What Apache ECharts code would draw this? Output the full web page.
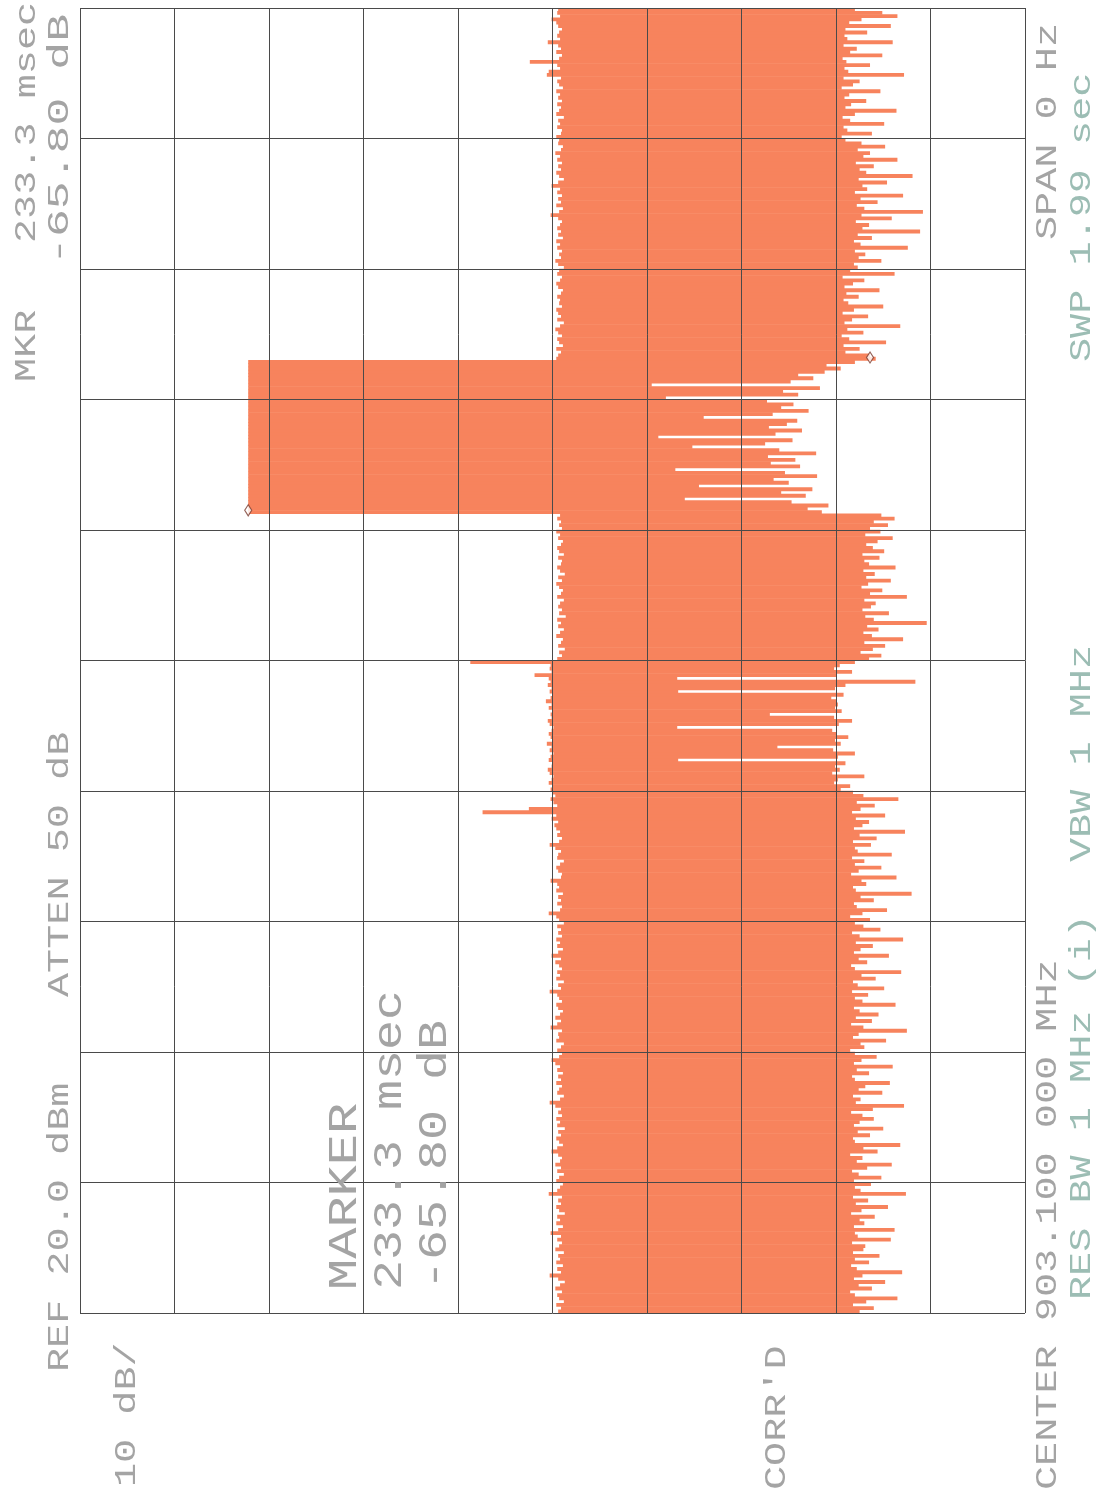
<!DOCTYPE html>
<html><head><meta charset="utf-8">
<script src="https://cdn.jsdelivr.net/npm/echarts@6/dist/echarts.min.js"></script>
<style>html,body{margin:0;padding:0;background:#fff}#c{width:1107px;height:1493px}</style>
</head><body><div id="c"></div><script>
// ---- Sweep settings ----
var sweepMs = 1990;            // SWP 1.99 sec, zero span
var ampTicks = [20, 10, 0, -10, -20, -30, -40, -50, -60, -70, -80]; // REF 20 dBm, 10 dB/div

// ---- Trace: upper envelope (peak, dBm) per sample, by segment ----
var peakA = [
-30.6,-30.9,-30.4,-31.2,-30.7,-30.5,-31.0,-30.3,-30.8,-31.3,-30.6,-29.7,-30.9,-30.5,-31.1,-30.4,-30.8,-30.6,-31.2,-30.3,
-30.7,-31.0,-30.5,-30.9,-29.8,-30.6,-31.1,-30.4,-30.8,-30.5,-31.3,-30.7,-30.4,-30.9,-30.6,-31.0,-29.6,-30.5,-30.8,-31.1,
-30.4,-30.7,-31.2,-30.5,-30.9,-30.3,-30.8,-31.0,-30.6,-29.9,-30.5,-31.1,-30.7,-30.4,-30.9,-30.6,-31.3,-30.5,-30.8,-30.4,
-31.0,-30.6,-30.9,-30.3,-29.7,-30.8,-31.2,-30.5,-30.7,-31.0,-30.4,-30.9,-30.6,-31.1,-30.5,-30.8,-30.3,-29.9,-30.7,-31.0,
-30.5,-30.9,-31.2,-30.4,-30.7,-30.6,-31.0,-29.8,-30.5,-30.9,-30.3,-30.8,-31.1,-30.6,-30.4,-31.0,-30.7,-30.5,-29.7,-30.9,
-30.6,-31.2,-30.4,-30.8,-30.5,-31.0,-30.7,-30.3,-30.9,-29.9,-30.6,-31.1,-30.5,-30.8,-30.4,-31.0,-30.6,-30.9,-30.5,-31.2,
-30.7,-30.4,-29.6,-30.8,-31.0,-30.5,-30.9,-30.6,-31.1,-30.4,-30.7,-30.5,-29.8,-30.9,-31.0,-30.6,-30.4,-30.8,-31.2,-30.5,
-30.6,-30.9,-30.3,-29.7,-30.7,-31.0,-30.5,-30.8,-30.4,-30.2,-30.6,-29.9,-30.4,-22.6,-27.5,-30.5,-30.1,-29.8,-30.3,-30.0];
var peakB = [
-29.8,-30.0,-29.6,-29.9,-30.1,-29.7,-29.5,-29.9,-30.0,-29.6,-29.8,-30.1,-29.7,-29.9,-29.4,-30.0,-29.8,-29.6,-29.9,-30.1,
-29.7,-29.5,-29.9,-29.8,-30.0,-29.6,-29.9,-29.3,-29.8,-30.0,-29.7,-29.9,-29.5,-29.8,-29.6,-28.1,-29.9,-29.7,-29.8,-21.3];
var peakC = [
-30.5,-31.0,-30.7,-31.3,-30.6,-30.9,-31.1,-30.4,-30.8,-31.2,-30.6,-30.9,-30.5,-31.4,-30.7,-31.0,-30.6,-30.8,-31.2,-30.5,
-30.9,-31.1,-30.7,-30.4,-31.0,-30.6,-31.3,-30.8,-30.5,-30.9,-31.0,-30.6,-31.2,-30.7,-30.5,-30.9,-31.1,-30.6,-30.8,-30.4,
-31.0,-30.7,-30.9,-30.5,-30.8];
var peakD = [
2.2,2.2,2.2,2.2,2.2,2.2,2.2,2.2,2.2,2.2,2.2,2.2,2.2,2.2,2.2,2.2,2.2,2.2,2.2,2.2,
2.2,2.2,2.2,2.2,2.2,2.2,2.2,2.2,2.2,2.2,2.2,2.2,2.2,2.2,2.2,2.2,2.2,2.2,2.2,2.2,
2.2,2.2,2.2,2.2,2.2,2.2,2.2];
var peakE = [
-30.4,-30.6,-30.9,-30.4,-31.1,-30.7,-30.5,-31.0,-30.6,-30.3,-30.8,-31.2,-30.5,-30.9,-30.6,-30.4,-31.0,-30.7,-30.8,-30.5,
-30.9,-31.1,-30.6,-30.4,-30.8,-31.0,-30.5,-30.7,-31.2,-30.6,-30.3,-30.9,-30.7,-31.0,-30.5,-30.8,-30.4,-31.1,-30.6,-30.9,
-30.5,-30.8,-31.0,-30.6,-29.8,-30.7,-31.1,-30.4,-30.9,-30.6,-31.0,-30.5,-30.8,-29.9,-30.6,-31.2,-30.7,-30.4,-30.9,-30.6,
-31.0,-30.5,-30.8,-30.3,-30.9,-31.1,-30.6,-30.7,-30.4,-30.9,-31.0,-30.5,-30.8,-30.6,-31.2,-30.4,-30.7,-30.9,-30.5,-31.0,
-30.6,-30.8,-30.4,-31.1,-30.7,-30.5,-30.9,-29.4,-29.6,-30.8,-30.5,-27.6,-30.7,-31.0,-30.4,-30.9,-30.6,-29.5,-30.8,-30.5,
-30.7,-31.0,-30.6,-30.4,-29.9,-30.8,-30.5,-30.6];

// ---- Trace: lower envelope (noise floor, dBm) per sample, by segment ----
var floorA = [
-62.5,-64.0,-61.8,-63.2,-66.5,-62.0,-61.5,-63.8,-62.4,-65.2,-61.9,-62.8,-67.0,-62.2,-61.6,-63.5,-62.0,-64.6,-61.8,-62.9,
-63.1,-61.7,-65.8,-62.3,-62.0,-66.2,-61.9,-63.0,-62.5,-64.1,-61.6,-62.7,-65.5,-62.1,-63.4,-61.8,-67.4,-62.6,-62.0,-63.7,
-61.9,-64.8,-62.4,-61.7,-63.3,-65.9,-62.2,-62.8,-61.5,-64.4,-62.9,-66.8,-62.0,-61.8,-63.6,-62.3,-65.0,-61.9,-62.5,-64.0,
-62.8,-61.6,-63.9,-67.2,-62.1,-62.6,-61.8,-64.9,-62.4,-63.1,-65.7,-62.0,-61.7,-63.5,-62.2,-66.0,-61.9,-62.7,-64.3,-62.0,
-61.5,-63.0,-62.6,-65.3,-61.8,-62.4,-67.5,-62.9,-61.6,-63.8,-62.1,-64.5,-62.5,-61.9,-66.3,-62.8,-62.0,-63.4,-61.7,-65.1,
-62.3,-61.8,-64.2,-62.7,-66.9,-62.0,-61.6,-63.3,-62.4,-65.6,-61.9,-62.6,-63.9,-62.1,-67.1,-62.5,-61.7,-64.7,-62.9,-62.0,
-63.6,-61.5,-62.8,-65.4,-62.2,-61.9,-64.0,-62.6,-68.0,-62.1,-61.8,-63.2,-62.7,-66.4,-61.6,-62.4,-64.8,-62.0,-63.0,-61.7,
-65.9,-62.3,-62.0,-63.7,-61.8,-64.3,-62.5,-67.3,-61.9,-62.8,-63.5,-62.1,-65.2,-61.7,-62.6,-64.1,-62.2,-66.6,-62.9,-61.8];
var floorB = [
-60.5,-61.5,-59.8,-60.2,-63.0,-59.6,-60.4,-59.9,-61.0,-43.3,-60.2,-62.0,-59.7,-53.8,-60.5,-59.9,-61.3,-60.1,-59.6,-43.2,
-60.3,-61.7,-59.8,-53.0,-60.6,-59.9,-60.2,-60.0,-59.5,-60.8,-43.3,-59.9,-61.0,-68.4,-43.2,-60.1,-61.7,-59.8,-60.4,-62.0];
var floorC = [
-63.5,-64.8,-62.6,-63.9,-65.2,-63.0,-67.1,-63.8,-62.9,-64.5,-63.3,-69.6,-64.0,-63.1,-65.6,-62.8,-63.7,-64.2,-63.0,-67.5,
-63.6,-64.9,-62.7,-63.4,-65.8,-63.2,-64.1,-62.9,-66.3,-63.5,-63.0,-64.6,-62.8,-65.1,-63.9,-63.2,-64.4,-66.0,-63.1,-64.7,
-63.6,-65.5,-64.0,-66.2,-64.8];
var floorD = [
-58.5,-57.0,-59.2,-55.3,-44.0,-56.8,-54.2,-57.5,-45.5,-55.0,-53.4,-58.0,-54.6,-43.0,-56.2,-53.1,-55.7,-52.8,-57.9,-54.0,
-44.8,-52.5,-55.4,-41.2,-53.6,-56.4,-52.9,-54.8,-55.9,-46.0,-53.3,-57.1,-54.2,-55.5,-52.7,-42.0,-56.0,-54.4,-58.3,-40.5,
-55.2,-57.6,-56.0,-58.8,-60.5,-59.0,-62.0];
var floorE = [
-64.2,-63.6,-61.0,-62.5,-60.8,-65.3,-61.4,-60.6,-62.9,-61.2,-66.8,-60.9,-61.7,-63.4,-60.7,-61.9,-65.0,-61.3,-60.8,-62.4,
-61.1,-64.6,-60.9,-61.8,-63.0,-60.7,-66.2,-61.5,-62.3,-61.9,-64.8,-62.4,-63.1,-62.0,-67.6,-62.6,-61.9,-63.8,-62.3,-68.9,
-62.8,-63.5,-62.1,-65.9,-62.7,-69.2,-63.0,-62.2,-64.4,-62.6,-67.1,-62.0,-63.3,-62.8,-65.4,-62.4,-68.1,-63.2,-62.5,-64.0,
-62.1,-66.5,-62.9,-63.6,-62.3,-65.2,-62.7,-61.0,-60.6,-63.8,-61.2,-60.8,-65.1,-61.5,-60.7,-62.0,-66.4,-61.0,-61.6,-63.2,
-60.9,-61.4,-64.7,-60.6,-61.8,-62.5,-60.8,-67.2,-61.3,-60.9,-63.6,-61.1,-60.7,-64.9,-61.5,-62.2,-60.8,-66.0,-61.2,-60.9,
-63.3,-61.0,-65.8,-61.4,-62.7,-66.5,-64.9,-62.0];

// ---- Delta marker (233.3 msec, -65.80 dB) ----
var markerTimesMs = [1224, 1457];
var markerLevels = [2.2, -63.6];

// ---- Annotation texts ----
var txtRef = 'REF 20.0 dBm', txtAtten = 'ATTEN 50 dB';
var txtMkr = 'MKR', txtMkrT = '233.3 msec', txtMkrV = '-65.80 dB';
var txtScale = '10 dB/', txtCorr = "CORR'D";
var txtCenter = 'CENTER 903.100 000 MHz', txtRbw = 'RES BW 1 MHz (i)', txtVbw = 'VBW 1 MHz';
var txtSpan = 'SPAN 0 Hz', txtSwp = 'SWP 1.99 sec';
var txtMarker = ['MARKER', '233.3 msec', '-65.80 dB'];

// ---- Build ----
var peaks = peakA.concat(peakB, peakC, peakD, peakE);
var floors = floorA.concat(floorB, floorC, floorD, floorE);
var n = peaks.length;
var traceData = [];
for (var i = 0; i < n; i++) {
  traceData.push([i * sweepMs / n, (i + 1) * sweepMs / n, peaks[i], floors[i]]);
}
var RED = '#F7835D';
var GRAY = '#a4a4a4', TEAL = '#9cbdb4';

function vtext(str, cx, y0, size, color, sx) {
  return {
    type: 'text', x: cx, y: y0, rotation: Math.PI / 2, scaleX: sx || 1.34, z: 100,
    style: { text: str, fontSize: size, fontFamily: 'Liberation Mono, DejaVu Sans Mono, monospace',
      fill: color, align: 'left', verticalAlign: 'middle' }
  };
}

var chart = echarts.init(document.getElementById('c'), null, { renderer: 'canvas' });
chart.setOption({
  animation: false,
  backgroundColor: '#ffffff',
  grid: { left: 80, right: 82, top: 8, bottom: 180, show: false },
  xAxis: {
    type: 'value', min: ampTicks[ampTicks.length - 1], max: ampTicks[0], interval: 10, inverse: true, z: 5,
    axisLine: { show: false }, axisTick: { show: false }, axisLabel: { show: false },
    splitLine: { show: true, lineStyle: { color: '#4a4a4a', width: 1 } }
  },
  yAxis: {
    type: 'value', min: 0, max: sweepMs, interval: 199, z: 5,
    axisLine: { show: false }, axisTick: { show: false }, axisLabel: { show: false },
    splitLine: { show: true, lineStyle: { color: '#4a4a4a', width: 1 } }
  },
  series: [{
    type: 'custom',
    data: traceData,
    encode: { x: [2, 3], y: [0, 1] },
    clip: true,
    renderItem: function (params, api) {
      var t0 = api.value(0), t1 = api.value(1), hi = api.value(2), lo = api.value(3);
      var a = api.coord([hi, t1]), b = api.coord([lo, t0]);
      var x = Math.min(a[0], b[0]), y = Math.min(a[1], b[1]);
      return { type: 'rect', shape: { x: x, y: y - 0.3, width: Math.abs(b[0] - a[0]), height: Math.abs(b[1] - a[1]) + 0.6 },
        style: { fill: RED } };
    },
    z: 2
  }, {
    type: 'scatter',
    data: markerLevels.map(function (v, k) { return [v, markerTimesMs[k]]; }),
    symbol: 'diamond', symbolSize: [7, 11],
    itemStyle: { color: '#ffffff', borderColor: '#7a3b2e', borderWidth: 1.2 },
    z: 10
  }],
  graphic: [
    vtext(txtRef, 60, 1372, 30, GRAY),
    vtext(txtAtten, 60, 997, 30, GRAY),
    vtext(txtMkr, 27, 382, 30, GRAY),
    vtext(txtMkrT, 27, 243, 30, GRAY),
    vtext(txtMkrV, 60, 265, 30, GRAY, 1.55),
    vtext(txtScale, 127, 1487, 30, GRAY),
    vtext(txtCorr, 777, 1490, 30, GRAY),
    vtext(txtCenter, 1048, 1490, 30, GRAY),
    vtext(txtRbw, 1082, 1300, 30, TEAL),
    vtext(txtVbw, 1082, 862, 30, TEAL),
    vtext(txtSpan, 1048, 240, 30, GRAY),
    vtext(txtSwp, 1082, 362, 30, TEAL),
    vtext(txtMarker[0], 345, 1290, 40, GRAY, 1.3),
    vtext(txtMarker[1], 390, 1290, 40, GRAY, 1.25),
    vtext(txtMarker[2], 435, 1290, 40, GRAY, 1.25)
  ]
});
</script></body></html>
